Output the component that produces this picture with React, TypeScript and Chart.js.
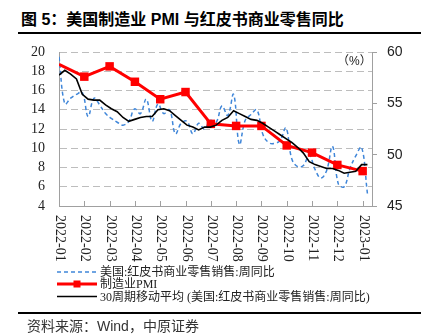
import React, { useEffect, useRef } from "react";
import { Chart, registerables } from "chart.js";

Chart.register(...registerables);

const monthLabels = [
  "2022-01", "2022-02", "2022-03", "2022-04", "2022-05", "2022-06", "2022-07",
  "2022-08", "2022-09", "2022-10", "2022-11", "2022-12", "2023-01",
];

// 制造业PMI (right axis), one value per month tick
const pmiValues = [58.8, 57.6, 58.6, 57.1, 55.4, 56.1, 53.0, 52.8, 52.8, 50.9, 50.2, 49.0, 48.4];

// 美国:红皮书商业零售销售:周同比 (weekly, left axis)
const redbookYoY = [
  19.5, 14.6, 15.2, 15.6, 15.8, 13.3, 15.2, 14.5, 13.6, 13.1,
  12.7, 12.4, 12.8, 14.1, 13.6, 15.1, 12.8, 14.6, 13.6, 14.0,
  11.5, 12.6, 12.8, 11.5, 12.6, 12.0, 12.9, 12.7, 14.4, 13.4,
  15.6, 10.4, 12.9, 13.5, 14.0, 11.5, 10.6, 10.5, 10.8, 12.1,
  8.9, 8.1, 8.2, 9.3, 7.8, 6.9, 7.7, 10.2, 6.3, 6.0,
  7.9, 9.2, 10.1, 5.3,
];

// 30周期移动平均 (weekly, left axis)
const redbookMA30 = [
  17.6, 18.1, 17.7, 17.2, 15.6, 15.1, 15.0, 15.0, 14.5, 14.1,
  13.8, 13.2, 12.8, 13.0, 13.2, 13.3, 13.3, 14.0, 14.1, 13.9,
  13.4, 12.9, 12.4, 12.2, 11.9, 12.2, 12.2, 12.4, 12.9, 13.2,
  13.9, 13.6, 13.3, 13.0, 12.9, 12.6, 12.2, 11.8, 11.4, 11.0,
  10.6, 10.1, 9.5, 8.6, 8.3, 8.1, 7.9, 7.9, 7.7, 7.4,
  7.5, 7.6, 8.3, 8.3,
];

const leftTicks = { min: 4, max: 20, step: 2 };
const rightTicks = { min: 45, max: 60, step: 5 };

const WEEK_IN_MONTHS = 7 / 30.4375;
const X_MAX = 12.37;

const AXIS = "#a0a0a0";
const GRID = "#bdbdbd";
const BLUE = "#3f86d9";
const RED = "#ff0000";

const SERIF = '"Liberation Serif", "Noto Sans CJK SC", serif';
const SANS = '"Liberation Sans", "Noto Sans CJK SC", sans-serif';

const xLabelPlugin = {
  id: "xLabels",
  afterDraw(chart: any) {
    const { ctx, chartArea, scales } = chart;
    const xs = scales.x;
    ctx.save();
    ctx.strokeStyle = AXIS;
    ctx.lineWidth = 1;
    monthLabels.forEach((lab, i) => {
      const x = Math.round(xs.getPixelForValue(i)) + 0.5;
      ctx.beginPath();
      ctx.moveTo(x, chartArea.bottom);
      ctx.lineTo(x, chartArea.bottom - 5);
      ctx.stroke();
      ctx.save();
      ctx.translate(x, chartArea.bottom + 9);
      ctx.rotate(Math.PI / 2);
      ctx.font = `14px ${SERIF}`;
      ctx.fillStyle = "#222";
      ctx.textAlign = "left";
      ctx.textBaseline = "middle";
      ctx.fillText(lab, 0, 0);
      ctx.restore();
    });
    ctx.restore();
  },
};

export default function App() {
  const ref = useRef<HTMLCanvasElement | null>(null);

  useEffect(() => {
    if (!ref.current) return;
    const chart = new Chart(ref.current, {
      type: "line",
      data: {
        datasets: [
          {
            label: "30周期移动平均 (美国:红皮书商业零售销售:周同比)",
            data: redbookMA30.map((v, i) => ({ x: i * WEEK_IN_MONTHS, y: v })),
            yAxisID: "y",
            borderColor: "#000",
            borderWidth: 1.6,
            pointRadius: 0,
            tension: 0,
            order: 0,
          } as any,
          {
            label: "制造业PMI",
            data: pmiValues.map((v, i) => ({ x: i, y: v })),
            yAxisID: "y1",
            borderColor: RED,
            backgroundColor: RED,
            borderWidth: 3,
            pointStyle: "rect",
            pointRadius: pmiValues.map((_, i) => (i === 0 ? 0 : 6)),
            pointBorderWidth: 0,
            order: 1,
          },
          {
            label: "美国:红皮书商业零售销售:周同比",
            data: redbookYoY.map((v, i) => ({ x: i * WEEK_IN_MONTHS, y: v })),
            yAxisID: "y",
            borderColor: BLUE,
            borderWidth: 1.5,
            borderDash: [4, 3],
            pointRadius: 0,
            tension: 0.4,
            order: 2,
          },
        ],
      },
      options: {
        responsive: false,
        animation: false,
        layout: { padding: { top: 52, left: 0, right: 0, bottom: 0 } },
        plugins: { legend: { display: false }, tooltip: { enabled: false } },
        scales: {
          x: {
            type: "linear",
            min: 0,
            max: X_MAX,
            afterBuildTicks: (s: any) => {
              s.ticks = monthLabels.map((_, i) => ({ value: i }));
            },
            ticks: { display: false },
            grid: { display: false },
            border: { display: true, color: AXIS, width: 1 },
            afterFit: (s: any) => {
              s.height = 62;
            },
          },
          y: {
            type: "linear",
            position: "left",
            min: leftTicks.min,
            max: leftTicks.max,
            ticks: {
              stepSize: leftTicks.step,
              autoSkip: false,
              font: { family: SERIF, size: 14 },
              color: "#222",
              padding: 14,
            },
            grid: { color: GRID, lineWidth: 1, drawTicks: false },
            border: { display: true, color: AXIS, width: 1, dash: [7, 4] },
            afterFit: (s: any) => {
              s.width = 59;
            },
          },
          y1: {
            type: "linear",
            position: "right",
            min: rightTicks.min,
            max: rightTicks.max,
            ticks: {
              stepSize: rightTicks.step,
              autoSkip: false,
              font: { family: SANS, size: 14 },
              color: "#222",
              padding: 10,
            },
            grid: { drawOnChartArea: false, drawTicks: true, tickLength: 5, color: AXIS },
            border: { display: true, color: AXIS, width: 1 },
            afterFit: (s: any) => {
              s.width = 55;
            },
          },
        },
      } as any,
      plugins: [xLabelPlugin],
    });
    return () => chart.destroy();
  }, []);

  const legendText: React.CSSProperties = {
    position: "absolute",
    left: 100,
    fontFamily: SERIF,
    fontSize: 12,
    lineHeight: "14px",
    color: "#222",
    whiteSpace: "nowrap",
  };

  return (
    <div
      style={{
        position: "absolute",
        left: 0,
        top: 0,
        width: 427,
        height: 336,
        background: "#fff",
        overflow: "hidden",
      }}
    >
      <div
        style={{
          position: "absolute",
          left: 21,
          top: 11,
          fontFamily: SANS,
          fontWeight: "bold",
          fontSize: 16,
          lineHeight: "18px",
          color: "#000",
          whiteSpace: "nowrap",
        }}
      >
        图 5：美国制造业 PMI 与红皮书商业零售同比
      </div>
      <div style={{ position: "absolute", left: 18, top: 32, width: 403, height: 2, background: "#000" }} />
      <canvas
        ref={ref}
        width={427}
        height={268}
        style={{ position: "absolute", left: 0, top: 0, width: 427, height: 268 }}
      />
      <div
        style={{
          position: "absolute",
          left: 337,
          top: 53,
          fontFamily: SANS,
          fontSize: 12,
          lineHeight: "16px",
          color: "#222",
          whiteSpace: "nowrap",
        }}
      >
        （%）
      </div>
      <svg
        width={427}
        height={336}
        style={{ position: "absolute", left: 0, top: 0, pointerEvents: "none" }}
      >
        <line x1={57} x2={97} y1={272} y2={272} stroke={BLUE} strokeWidth={1.5} strokeDasharray="4 3" />
        <line x1={57} x2={97} y1={284} y2={284} stroke={RED} strokeWidth={3} />
        <rect x={73.5} y={280.5} width={7} height={7} fill={RED} />
        <line x1={57} x2={97} y1={296.5} y2={296.5} stroke="#000" strokeWidth={1.5} />
      </svg>
      <div style={{ ...legendText, top: 265 }}>美国:红皮书商业零售销售:周同比</div>
      <div style={{ ...legendText, top: 277 }}>制造业PMI</div>
      <div style={{ ...legendText, top: 290 }}>30周期移动平均 (美国:红皮书商业零售销售:周同比)</div>
      <div style={{ position: "absolute", left: 18, top: 312, width: 403, height: 2, background: "#000" }} />
      <div
        style={{
          position: "absolute",
          left: 27,
          top: 318,
          fontFamily: SANS,
          fontSize: 14,
          lineHeight: "16px",
          color: "#333",
          whiteSpace: "nowrap",
        }}
      >
        资料来源：Wind，中原证券
      </div>
    </div>
  );
}
